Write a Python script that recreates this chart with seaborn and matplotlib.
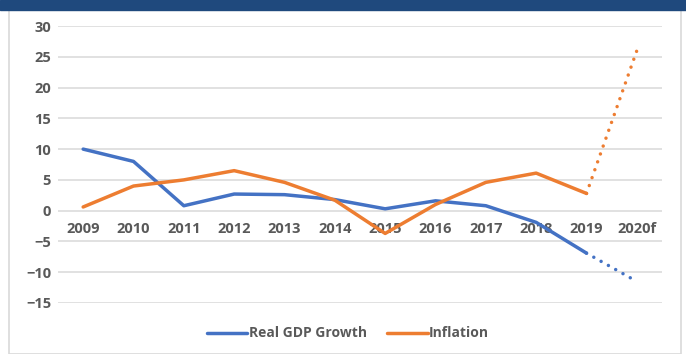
import matplotlib
matplotlib.use("Agg")
import matplotlib.pyplot as plt
import pandas as pd
import seaborn as sns
from matplotlib.patches import Rectangle

years = ["2009", "2010", "2011", "2012", "2013", "2014", "2015",
         "2016", "2017", "2018", "2019", "2020f"]
gdp_growth = [10.0, 8.0, 0.8, 2.7, 2.6, 1.8, 0.3, 1.6, 0.8, -1.9, -6.9, -11.5]
inflation = [0.6, 4.0, 5.0, 6.5, 4.6, 1.7, -3.7, 1.0, 4.6, 6.1, 2.8, 26.0]
y_ticks = [-15, -10, -5, 0, 5, 10, 15, 20, 25, 30]

BLUE = "#4472C4"
ORANGE = "#ED7D31"
GREY = "#595959"

df = pd.DataFrame({"year": years, "Real GDP Growth": gdp_growth,
                   "Inflation": inflation})
actual = df.iloc[:-1]
forecast = df.iloc[-2:]

sns.set_theme(style="white")
plt.rcParams["font.family"] = ["Open Sans", "DejaVu Sans"]

W, H = 686, 354
fig = plt.figure(figsize=(W / 100, H / 100), dpi=100)
ax = fig.add_axes([58 / W, 1 - 303 / H, (662 - 58) / W, (303 - 26) / H])

# frame and top band
fig.patches.append(Rectangle((9 / W, 0), (681 - 9) / W, 1 - 9 / H,
                             transform=fig.transFigure, fill=False,
                             edgecolor="#D9D9D9", linewidth=1.2))
fig.patches.append(Rectangle((0, 1 - 9.5 / H), 1, 9.5 / H,
                             transform=fig.transFigure, color="#1F497D"))

lw = 2.5
sns.lineplot(data=actual, x="year", y="Real GDP Growth", color=BLUE,
             linewidth=lw, ax=ax, label="Real GDP Growth", sort=False)
sns.lineplot(data=actual, x="year", y="Inflation", color=ORANGE,
             linewidth=lw, ax=ax, label="Inflation", sort=False)
for col, c in [("Real GDP Growth", BLUE), ("Inflation", ORANGE)]:
    ax.plot(forecast["year"], forecast[col], color=c, linewidth=lw,
            linestyle=(0, (0.01, 2.4)), dash_capstyle="round")

ax.set_xlim(-0.5, len(years) - 0.5)
ax.set_ylim(-15, 30)
ax.set_yticks(y_ticks)
ax.grid(axis="y", color="#D9D9D9", linewidth=1.1)
ax.set_axisbelow(True)
for s in ["top", "right", "left"]:
    ax.spines[s].set_visible(False)
ax.spines["bottom"].set_position(("data", 0))
ax.spines["bottom"].set_visible(False)
ax.tick_params(axis="both", length=0, labelsize=10.5, labelcolor=GREY)
ax.tick_params(axis="x", pad=8)
ax.tick_params(axis="y", pad=5)
for t in ax.get_xticklabels() + ax.get_yticklabels():
    t.set_fontweight("bold")
ax.set_xlabel("")
ax.set_ylabel("")

leg = ax.legend(loc="center", bbox_to_anchor=(0.48, -0.11), ncol=2,
                frameon=False, handlelength=2.9, handletextpad=0.1,
                columnspacing=1.5, prop={"size": 10, "weight": "bold"})
for t in leg.get_texts():
    t.set_color(GREY)

fig.savefig("out.png", dpi=100)
